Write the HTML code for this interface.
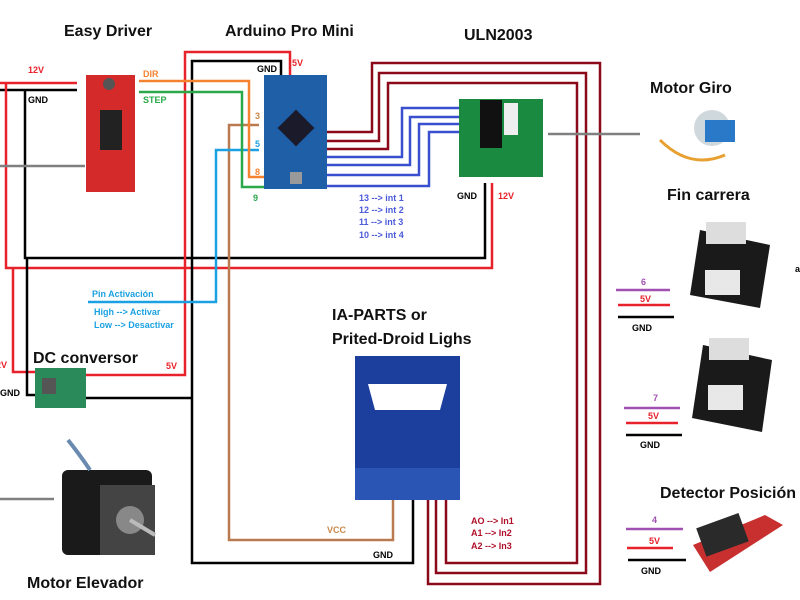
<!DOCTYPE html>
<html><head><meta charset="utf-8"><style>
html,body{margin:0;padding:0;background:#fff;width:800px;height:600px;overflow:hidden}
svg{display:block}
text{font-family:"Liberation Sans",sans-serif;font-weight:bold}
</style></head><body>
<svg width="800" height="600" viewBox="0 0 800 600" xmlns="http://www.w3.org/2000/svg">
<g fill="none" stroke-width="2.5">
<polyline stroke="#e8222a" points="0,83 77,83"/>
<polyline stroke="#000" points="0,90 77,90"/>
<polyline stroke="#000" points="25,90 25,258 485,258 485,183"/>
<polyline stroke="#e8222a" points="6,83 6,268 492,268 492,183"/>
<polyline stroke="#e8222a" points="13,268 13,372 35,372"/>
<polyline stroke="#000" points="27,258 27,395 35,395"/>
<polyline stroke="#e8222a" points="86,375 185,375 185,52 290,52 290,75"/>
<polyline stroke="#000" points="86,398 192,398"/>
<polyline stroke="#000" points="281,75 281,61 192,61 192,563 413,563 413,498"/>
<polyline stroke="#b97a50" points="259,125 229,125 229,540 393,540 393,498"/>
<polyline stroke="#1ba1e2" points="259,150 216,150 216,302 88,302"/>
<polyline stroke="#f58231" points="139,81 249,81 249,177 265,177"/>
<polyline stroke="#2aa84a" points="139,92 242,92 242,187 265,187"/>
<polyline stroke="#8b0a1a" points="327,132 372,132 372,63 600,63 600,584 428,584 428,498"/>
<polyline stroke="#8b0a1a" points="327,141 379,141 379,73 586,73 586,573 436,573 436,498"/>
<polyline stroke="#8b0a1a" points="327,149 388,149 388,83 577,83 577,563 446,563 446,498"/>
<polyline stroke="#3a4fd0" points="327,157 402,157 402,108 459,108"/>
<polyline stroke="#3a4fd0" points="327,165 410,165 410,117 459,117"/>
<polyline stroke="#3a4fd0" points="327,175 419,175 419,124 459,124"/>
<polyline stroke="#3a4fd0" points="327,186 429,186 429,132 459,132"/>
<polyline stroke="#808080" points="0,166 85,166"/>
<polyline stroke="#808080" points="548,134 640,134"/>
<polyline stroke="#808080" points="0,499 54,499"/>
<polyline stroke="#a050b0" points="616,290 670,290"/>
<polyline stroke="#e8222a" points="618,305 670,305"/>
<polyline stroke="#000" points="618,317 674,317"/>
<polyline stroke="#a050b0" points="624,408 680,408"/>
<polyline stroke="#e8222a" points="626,423 678,423"/>
<polyline stroke="#000" points="626,435 682,435"/>
<polyline stroke="#a050b0" points="626,529 683,529"/>
<polyline stroke="#e8222a" points="627,548 673,548"/>
<polyline stroke="#000" points="628,560 686,560"/>
</g>
<rect x="86" y="75" width="49" height="117" fill="#d42a2a"/>
<rect x="100" y="110" width="22" height="40" fill="#222"/>
<circle cx="109" cy="84" r="6" fill="#555"/>
<rect x="264" y="75" width="63" height="114" fill="#1e5fa8"/>
<rect x="283" y="115" width="26" height="26" fill="#1a1a2a" transform="rotate(45 296 128)"/>
<rect x="290" y="172" width="12" height="12" fill="#9a9a9a"/>
<rect x="459" y="99" width="84" height="78" fill="#1a8a40"/>
<rect x="480" y="100" width="22" height="48" fill="#111"/>
<rect x="504" y="103" width="14" height="32" fill="#eee"/>
<rect x="35" y="368" width="51" height="40" fill="#2a8a5a"/>
<rect x="42" y="378" width="14" height="16" fill="#555"/>
<rect x="355" y="356" width="105" height="144" fill="#1c3f9e"/>
<polygon points="368,384 447,384 440,410 375,410" fill="#fff"/>
<rect x="355" y="468" width="105" height="32" fill="#2a55b5"/>
<rect x="62" y="470" width="90" height="85" fill="#1a1a1a" rx="6"/>
<rect x="100" y="485" width="55" height="70" fill="#444"/>
<circle cx="130" cy="520" r="14" fill="#888"/>
<line x1="130" y1="520" x2="155" y2="535" stroke="#bbb" stroke-width="4"/>
<path d="M68,440 Q80,455 90,470" stroke="#6a8ab0" stroke-width="4" fill="none"/>
<circle cx="712" cy="128" r="18" fill="#cfd8dc"/>
<rect x="705" y="120" width="30" height="22" fill="#2a78c8"/>
<path d="M660,140 Q690,170 725,155" stroke="#e8a030" stroke-width="3" fill="none"/>
<polygon points="700,230 770,245 760,308 690,295" fill="#1a1a1a"/>
<rect x="706" y="222" width="40" height="22" fill="#ddd"/>
<rect x="705" y="270" width="35" height="25" fill="#e8e8e8"/>
<polygon points="703,345 772,360 762,432 692,418" fill="#1a1a1a"/>
<rect x="709" y="338" width="40" height="22" fill="#ddd"/>
<rect x="708" y="385" width="35" height="25" fill="#e8e8e8"/>
<polygon points="693,545 765,515 783,525 710,572" fill="#c83030"/>
<rect x="700" y="520" width="45" height="30" fill="#2a2a2a" transform="rotate(-20 722 535)"/>
<g font-size="16" fill="#111">
<text x="64" y="36">Easy Driver</text>
<text x="225" y="36">Arduino Pro Mini</text>
<text x="464" y="40">ULN2003</text>
<text x="650" y="93">Motor Giro</text>
<text x="667" y="200">Fin carrera</text>
<text x="660" y="498">Detector Posición</text>
<text x="33" y="363">DC conversor</text>
<text x="332" y="320">IA-PARTS or</text>
<text x="332" y="344">Prited-Droid Lighs</text>
<text x="27" y="588">Motor Elevador</text>
</g>
<g font-size="9">
<text x="28" y="73" fill="#e8222a">12V</text>
<text x="28" y="103" fill="#000">GND</text>
<text x="143" y="77" fill="#f58231">DIR</text>
<text x="143" y="103" fill="#2aa84a">STEP</text>
<text x="257" y="72" fill="#000">GND</text>
<text x="292" y="66" fill="#e8222a">5V</text>
<text x="255" y="119" fill="#c8884a">3</text>
<text x="255" y="147" fill="#1ba1e2">5</text>
<text x="255" y="175" fill="#f58231">8</text>
<text x="253" y="201" fill="#2aa84a">9</text>
<text x="359" y="201" fill="#4a5ad8">13 --&gt; int 1</text>
<text x="359" y="213" fill="#4a5ad8">12 --&gt; int 2</text>
<text x="359" y="225" fill="#4a5ad8">11 --&gt; int 3</text>
<text x="359" y="238" fill="#4a5ad8">10 --&gt; int 4</text>
<text x="457" y="199" fill="#000">GND</text>
<text x="498" y="199" fill="#e8222a">12V</text>
<text x="92" y="297" fill="#1ba1e2">Pin Activación</text>
<text x="94" y="315" fill="#1ba1e2">High --&gt; Activar</text>
<text x="94" y="328" fill="#1ba1e2">Low --&gt; Desactivar</text>
<text x="-4" y="368" fill="#e8222a">2V</text>
<text x="0" y="396" fill="#000">GND</text>
<text x="166" y="369" fill="#e8222a">5V</text>
<text x="327" y="533" fill="#c8884a">VCC</text>
<text x="373" y="558" fill="#000">GND</text>
<text x="471" y="524" fill="#b0102a">AO --&gt; In1</text>
<text x="471" y="536" fill="#b0102a">A1 --&gt; In2</text>
<text x="471" y="549" fill="#b0102a">A2 --&gt; In3</text>
<text x="641" y="285" fill="#a050b0">6</text>
<text x="640" y="302" fill="#e8222a">5V</text>
<text x="632" y="331" fill="#000">GND</text>
<text x="653" y="401" fill="#a050b0">7</text>
<text x="648" y="419" fill="#e8222a">5V</text>
<text x="640" y="448" fill="#000">GND</text>
<text x="652" y="523" fill="#a050b0">4</text>
<text x="649" y="544" fill="#e8222a">5V</text>
<text x="641" y="574" fill="#000">GND</text>
<text x="795" y="272" fill="#000">a</text>
</g>
</svg>
</body></html>
